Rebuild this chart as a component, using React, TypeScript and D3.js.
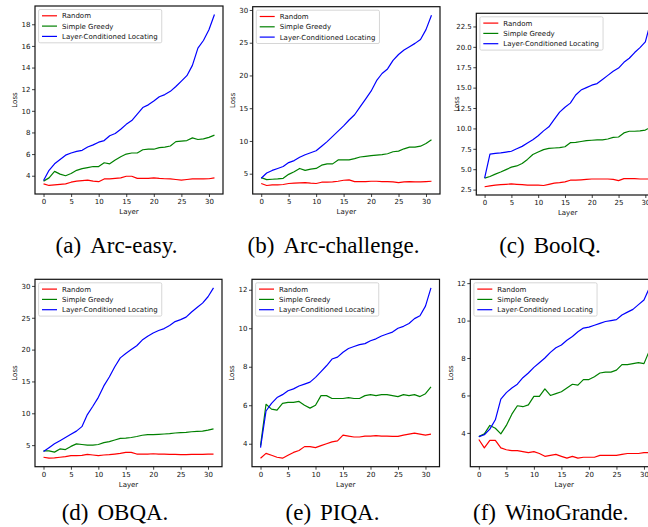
import React, { useEffect, useRef } from 'react';
import * as d3 from 'd3';

// x axis: transformer layer index
const layers = [0, 1, 2, 3, 4, 5, 6, 7, 8, 9, 10, 11, 12, 13, 14, 15, 16, 17, 18, 19, 20, 21, 22, 23, 24, 25, 26, 27, 28, 29, 30, 31];
const xTicks = [0, 5, 10, 15, 20, 25, 30];

const seriesNames = ['Random', 'Simple Greedy', 'Layer-Conditioned Locating'];
const seriesColors = ['#ff0000', '#008000', '#0000ff'];

// (a) Arc-easy
const arcEasyRandom = [3.25, 3.1, 3.15, 3.2, 3.25, 3.4, 3.5, 3.55, 3.6, 3.5, 3.45, 3.7, 3.7, 3.75, 3.8, 3.95, 3.95, 3.75, 3.75, 3.75, 3.8, 3.75, 3.72, 3.7, 3.65, 3.6, 3.65, 3.7, 3.7, 3.7, 3.72, 3.8];
const arcEasyGreedy = [3.5, 3.8, 4.4, 4.15, 4.0, 4.2, 4.5, 4.65, 4.75, 4.85, 4.85, 5.2, 5.1, 5.45, 5.75, 6.0, 6.1, 6.1, 6.4, 6.45, 6.45, 6.6, 6.65, 6.75, 7.15, 7.2, 7.25, 7.5, 7.35, 7.4, 7.55, 7.75];
const arcEasyLocating = [3.55, 4.5, 5.1, 5.5, 5.9, 6.1, 6.25, 6.35, 6.65, 6.85, 7.1, 7.25, 7.7, 7.9, 8.3, 8.75, 9.1, 9.7, 10.3, 10.55, 10.9, 11.3, 11.5, 11.8, 12.25, 12.75, 13.25, 14.2, 15.8, 16.5, 17.5, 18.9];
const arcEasyTicks = [4, 6, 8, 10, 12, 14, 16, 18];

// (b) Arc-challenge
const arcChallengeRandom = [3.5, 3.2, 3.3, 3.3, 3.35, 3.5, 3.55, 3.6, 3.65, 3.55, 3.5, 3.7, 3.7, 3.75, 3.85, 4.0, 4.05, 3.8, 3.8, 3.8, 3.85, 3.85, 3.8, 3.8, 3.75, 3.65, 3.75, 3.8, 3.75, 3.75, 3.8, 3.85];
const arcChallengeGreedy = [4.4, 4.1, 4.15, 4.2, 4.3, 4.9, 5.3, 5.8, 5.5, 5.7, 5.8, 6.3, 6.5, 6.5, 7.1, 7.1, 7.1, 7.3, 7.55, 7.65, 7.75, 7.85, 7.9, 8.05, 8.35, 8.45, 8.8, 9.05, 9.05, 9.2, 9.6, 10.2];
const arcChallengeLocating = [4.3, 5.1, 5.5, 5.8, 6.1, 6.7, 7.0, 7.5, 7.9, 8.2, 8.5, 9.2, 9.9, 10.7, 11.5, 12.3, 13.2, 14.0, 15.2, 16.4, 17.6, 19.2, 20.3, 21.0, 22.3, 23.2, 23.9, 24.4, 24.9, 25.5, 27.0, 29.2];
const arcChallengeTicks = [5, 10, 15, 20, 25, 30];

// (c) BoolQ
const boolqRandom = [2.85, 2.95, 3.05, 3.1, 3.15, 3.2, 3.15, 3.1, 3.05, 3.05, 3.05, 3.0, 3.15, 3.3, 3.35, 3.45, 3.65, 3.65, 3.7, 3.75, 3.8, 3.8, 3.8, 3.8, 3.75, 3.6, 3.85, 3.85, 3.85, 3.8, 3.8, 3.8];
const boolqGreedy = [3.9, 4.1, 4.4, 4.65, 4.95, 5.25, 5.4, 5.7, 6.2, 6.8, 7.1, 7.4, 7.55, 7.6, 7.65, 7.75, 8.25, 8.3, 8.4, 8.5, 8.55, 8.6, 8.6, 8.7, 8.9, 8.95, 9.45, 9.65, 9.65, 9.7, 9.8, 10.15];
const boolqLocating = [3.9, 6.85, 6.95, 7.0, 7.1, 7.2, 7.5, 7.8, 8.2, 8.6, 9.1, 9.7, 10.2, 11.1, 12.0, 12.6, 13.1, 14.1, 14.7, 15.0, 15.3, 15.5, 16.0, 16.5, 17.0, 17.4, 18.1, 18.6, 19.3, 19.9, 20.6, 23.1];
const boolqTicks = [2.5, 5, 7.5, 10, 12.5, 15, 17.5, 20, 22.5];

// (d) OBQA
const obqaRandom = [3.1, 2.95, 3.0, 3.1, 3.2, 3.35, 3.35, 3.4, 3.55, 3.45, 3.35, 3.45, 3.5, 3.6, 3.7, 3.85, 3.85, 3.6, 3.6, 3.6, 3.65, 3.6, 3.6, 3.55, 3.55, 3.5, 3.5, 3.55, 3.55, 3.55, 3.6, 3.6];
const obqaGreedy = [4.1, 4.1, 3.9, 4.4, 4.3, 4.8, 5.2, 5.1, 5.0, 5.0, 5.1, 5.4, 5.55, 5.8, 6.05, 6.1, 6.2, 6.35, 6.55, 6.65, 6.65, 6.7, 6.75, 6.8, 6.9, 6.95, 7.0, 7.1, 7.15, 7.2, 7.35, 7.55];
const obqaLocating = [4.0, 4.6, 5.2, 5.7, 6.2, 6.7, 7.2, 7.9, 9.8, 11.1, 12.5, 14.3, 15.7, 17.3, 18.7, 19.4, 20.0, 20.6, 21.5, 22.1, 22.6, 23.0, 23.3, 23.8, 24.4, 24.7, 25.1, 25.9, 26.6, 27.3, 28.3, 29.7];
const obqaTicks = [5, 10, 15, 20, 25, 30];

// (e) PIQA
const piqaRandom = [3.25, 3.5, 3.4, 3.3, 3.25, 3.4, 3.55, 3.65, 3.85, 3.85, 3.8, 3.9, 4.0, 4.1, 4.15, 4.45, 4.4, 4.35, 4.35, 4.4, 4.4, 4.42, 4.4, 4.4, 4.38, 4.38, 4.45, 4.5, 4.55, 4.5, 4.45, 4.5];
const piqaGreedy = [3.9, 6.05, 5.8, 5.75, 6.1, 6.15, 6.15, 6.2, 6.0, 5.85, 6.0, 6.5, 6.5, 6.35, 6.35, 6.35, 6.4, 6.35, 6.35, 6.5, 6.55, 6.5, 6.55, 6.55, 6.5, 6.45, 6.55, 6.5, 6.55, 6.45, 6.6, 6.95];
const piqaLocating = [3.8, 5.7, 6.1, 6.4, 6.55, 6.75, 6.85, 7.0, 7.1, 7.2, 7.45, 7.75, 8.05, 8.4, 8.5, 8.75, 8.95, 9.05, 9.15, 9.2, 9.35, 9.45, 9.6, 9.7, 9.8, 10.0, 10.1, 10.25, 10.5, 10.65, 11.15, 12.1];
const piqaTicks = [4, 6, 8, 10, 12];

// (f) WinoGrande
const winoRandom = [3.65, 3.2, 3.6, 3.6, 3.2, 3.1, 3.05, 3.05, 3.0, 2.95, 3.0, 2.9, 2.75, 2.8, 2.85, 2.75, 2.65, 2.75, 2.65, 2.7, 2.7, 2.7, 2.8, 2.8, 2.8, 2.8, 2.85, 2.9, 2.9, 2.9, 2.95, 2.95];
const winoGreedy = [3.8, 3.95, 4.4, 4.25, 3.95, 4.4, 5.0, 5.45, 5.4, 5.5, 5.95, 5.95, 6.35, 6.0, 6.1, 6.2, 6.4, 6.6, 6.55, 6.85, 6.85, 7.0, 7.2, 7.25, 7.25, 7.35, 7.65, 7.65, 7.7, 7.75, 7.7, 8.4];
const winoLocating = [3.8, 3.9, 4.2, 4.7, 5.8, 6.15, 6.4, 6.6, 6.95, 7.2, 7.5, 7.75, 8.0, 8.3, 8.55, 8.7, 8.95, 9.15, 9.4, 9.6, 9.65, 9.75, 9.85, 9.95, 10.0, 10.05, 10.3, 10.45, 10.6, 10.85, 11.1, 11.75];
const winoTicks = [4, 6, 8, 10, 12];

const captionLabels = ['(a)', '(b)', '(c)', '(d)', '(e)', '(f)'];
const captionNames = ['Arc-easy.', 'Arc-challenge.', 'BoolQ.', 'OBQA.', 'PIQA.', 'WinoGrande.'];

// axes boxes (the subfigures are cropped on the right, like the source figure)
const boxes = [
	{ left: 35, top: 6, right: 223, bottom: 194, capX: 116.5, capY: 253 },
	{ left: 252.7, top: 6.7, right: 440, bottom: 194, capX: 333.5, capY: 253 },
	{ left: 476.3, top: 13.3, right: 659, bottom: 195, capX: 550, capY: 253 },
	{ left: 35, top: 279.3, right: 222, bottom: 466.7, capX: 115, capY: 520 },
	{ left: 252, top: 279.3, right: 439.5, bottom: 466.7, capX: 332.5, capY: 520 },
	{ left: 470.3, top: 279.3, right: 658, bottom: 466.7, capX: 550.8, capY: 520 },
];

const panels = [
	{ series: [arcEasyRandom, arcEasyGreedy, arcEasyLocating], ticks: arcEasyTicks, fmt: 'd' },
	{ series: [arcChallengeRandom, arcChallengeGreedy, arcChallengeLocating], ticks: arcChallengeTicks, fmt: 'd' },
	{ series: [boolqRandom, boolqGreedy, boolqLocating], ticks: boolqTicks, fmt: '.1f' },
	{ series: [obqaRandom, obqaGreedy, obqaLocating], ticks: obqaTicks, fmt: 'd' },
	{ series: [piqaRandom, piqaGreedy, piqaLocating], ticks: piqaTicks, fmt: 'd' },
	{ series: [winoRandom, winoGreedy, winoLocating], ticks: winoTicks, fmt: 'd' },
];

const W = 648;
const H = 527;
const sans = 'DejaVu Sans, sans-serif';
const serif = 'Liberation Serif, Times New Roman, serif';

function drawPanel(svg: any, panel: any, box: any, i: number) {
	// matplotlib-ish 5% margins
	const [x0, x1] = d3.extent(layers) as [number, number];
	const xPad = (x1 - x0) * 0.05;
	const all = panel.series.flat();
	const [lo, hi] = d3.extent(all) as [number, number];
	const yPad = (hi - lo) * 0.05;

	const x = d3.scaleLinear().domain([x0 - xPad, x1 + xPad]).range([box.left, box.right]);
	const y = d3.scaleLinear().domain([lo - yPad, hi + yPad]).range([box.bottom, box.top]);

	const g = svg.append('g');

	const clipId = 'clip' + i;
	g.append('clipPath')
		.attr('id', clipId)
		.append('rect')
		.attr('x', box.left)
		.attr('y', box.top)
		.attr('width', box.right - box.left)
		.attr('height', box.bottom - box.top);

	const line = d3
		.line<number>()
		.x((d, k) => x(layers[k]))
		.y(d => y(d));

	panel.series.forEach((vals: number[], k: number) => {
		g.append('path')
			.attr('d', line(vals))
			.attr('fill', 'none')
			.attr('stroke', seriesColors[k])
			.attr('stroke-width', 1.2)
			.attr('stroke-linejoin', 'round')
			.attr('clip-path', `url(#${clipId})`);
	});

	const xAxis = d3.axisBottom(x).tickValues(xTicks).tickSize(3).tickPadding(2).tickFormat(d3.format('d'));
	const gx = g.append('g').attr('transform', `translate(0,${box.bottom})`).call(xAxis);
	const yAxis = d3.axisLeft(y).tickValues(panel.ticks).tickSize(3).tickPadding(1.5).tickFormat(d3.format(panel.fmt));
	const gy = g.append('g').attr('transform', `translate(${box.left},0)`).call(yAxis);
	[gx, gy].forEach(ax => {
		ax.select('.domain').remove();
		ax.attr('font-family', sans).attr('font-size', 7);
		ax.selectAll('text').attr('fill', '#111');
		ax.selectAll('line').attr('stroke', '#111').attr('stroke-width', 0.8);
	});

	// spines
	g.append('rect')
		.attr('x', box.left)
		.attr('y', box.top)
		.attr('width', box.right - box.left)
		.attr('height', box.bottom - box.top)
		.attr('fill', 'none')
		.attr('stroke', '#111')
		.attr('stroke-width', 1.2);

	g.append('text')
		.attr('x', (box.left + box.right) / 2)
		.attr('y', box.bottom + 18)
		.attr('dy', '0.35em')
		.attr('text-anchor', 'middle')
		.attr('font-family', sans)
		.attr('font-size', 7)
		.attr('fill', '#111')
		.text('Layer');
	g.append('text')
		.attr('transform', `translate(${box.left - 20},${(box.top + box.bottom) / 2}) rotate(-90)`)
		.attr('dy', '0.35em')
		.attr('text-anchor', 'middle')
		.attr('font-family', sans)
		.attr('font-size', 7)
		.attr('fill', '#111')
		.text('Loss');

	// legend
	const lg = g.append('g').attr('transform', `translate(${box.left + 3.6},${box.top + 3.5})`);
	const frame = lg
		.append('rect')
		.attr('rx', 1.5)
		.attr('fill', 'white')
		.attr('fill-opacity', 0.8)
		.attr('stroke', '#cccccc')
		.attr('stroke-width', 0.8);
	const labels = seriesNames.map((name, k) => {
		const yy = 6.3 + k * 10.3;
		lg.append('line')
			.attr('x1', 3.4)
			.attr('x2', 18.4)
			.attr('y1', yy)
			.attr('y2', yy)
			.attr('stroke', seriesColors[k])
			.attr('stroke-width', 1.2);
		return lg
			.append('text')
			.attr('x', 23.4)
			.attr('y', yy)
			.attr('dy', '0.35em')
			.attr('font-family', sans)
			.attr('font-size', 7)
			.attr('fill', '#111')
			.text(name);
	});
	const tw = d3.max(labels, (t: any) => (t.node() as SVGTextElement).getComputedTextLength()) || 96;
	frame.attr('width', 23.4 + tw + 4).attr('height', 33.3);

	// caption
	const cap = svg
		.append('text')
		.attr('x', box.capX)
		.attr('y', box.capY)
		.attr('text-anchor', 'middle')
		.attr('font-family', serif)
		.attr('font-size', 23)
		.attr('fill', '#000');
	cap.append('tspan').text(captionLabels[i]);
	cap.append('tspan').attr('dx', 9).text(captionNames[i]);
}

export default function App() {
	const ref = useRef<SVGSVGElement>(null);

	useEffect(() => {
		const svg = d3.select(ref.current);
		svg.selectAll('*').remove();
		svg.append('rect').attr('width', W).attr('height', H).attr('fill', 'white');
		panels.forEach((p, i) => drawPanel(svg, p, boxes[i], i));
	}, []);

	return (
		<svg
			ref={ref}
			width={W}
			height={H}
			style={{ position: 'absolute', left: 0, top: 0, display: 'block', overflow: 'hidden' }}
		/>
	);
}
